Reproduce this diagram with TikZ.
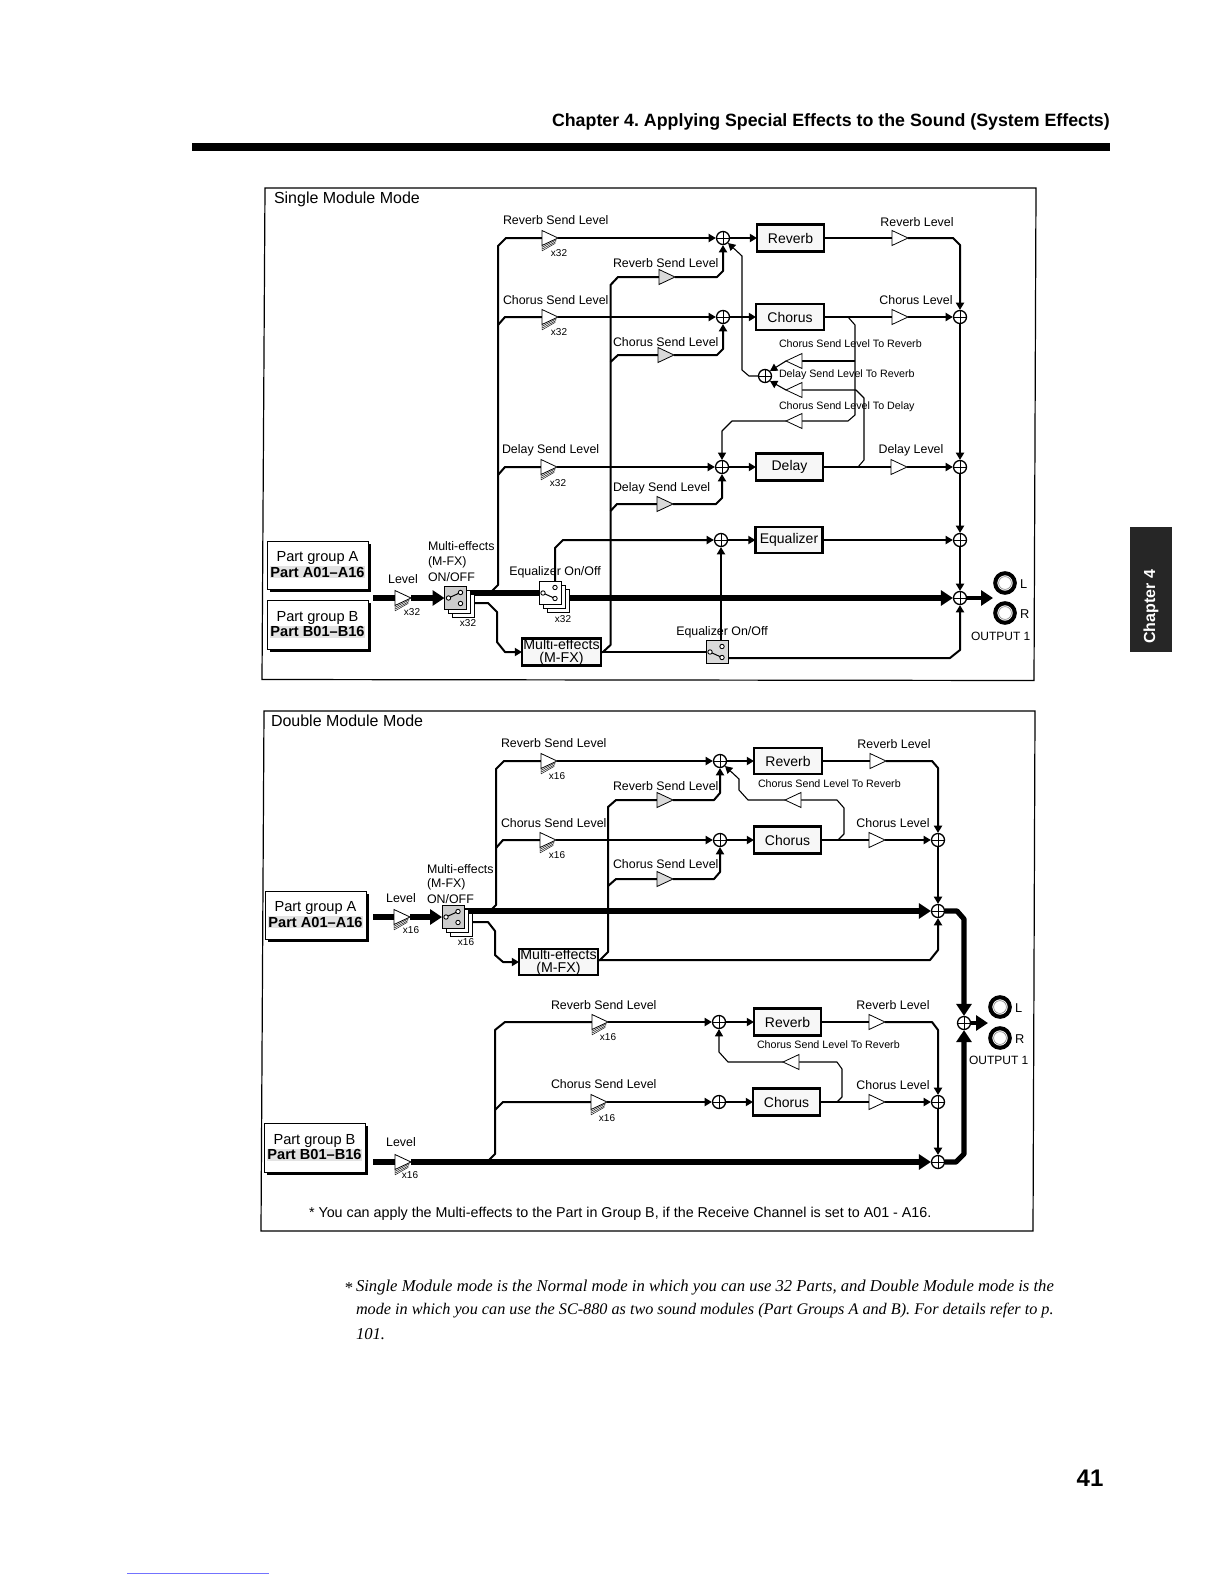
\documentclass[tikz,border=0pt]{standalone}
\usepackage{fontspec}
\setmainfont{Liberation Sans}
\newfontfamily\capfont{Liberation Serif}
\usetikzlibrary{arrows.meta,backgrounds,shadows}
\newcounter{tn}
\setlength{\fboxsep}{0.4pt}
\newcommand{\shd}[1]{\colorbox{gray!22}{\textbf{#1}}}
\newcommand{\fs}[1]{\fontsize{#1pt}{#1pt}\selectfont}
\frenchspacing
\tikzset{
  x=0.5pt,y=-0.5pt,
  txt/.style={inner sep=0,outer sep=0,font=\fs{6.2},yshift=-.4pt},
  small/.style={txt,font=\fs{5.35}},
  mult/.style={txt,font=\fs{5}},
  sumnode/.style={circle,draw,fill=white,line width=.65pt,minimum size=6.5pt,inner sep=0,outer sep=.3pt,
    path picture={\draw[line width=.45pt] (path picture bounding box.north)--(path picture bounding box.south)
      (path picture bounding box.west)--(path picture bounding box.east);}},
  ampbox/.style={rectangle,minimum width=8pt,minimum height=7.5pt,inner sep=0,outer sep=0},
  ampline/.style={line width=.4pt,line join=miter},
  fxbox/.style={rectangle,draw,fill=gray!6,line width=1.25pt,inner sep=0,outer sep=0,align=center,font=\fs{7}},
  partbox/.style={rectangle,draw,fill=white,line width=.4pt,inner sep=0,outer sep=0,align=center,font=\fs{7.3},
    minimum width=50.5pt,drop shadow={shadow xshift=1.3pt,shadow yshift=-1.3pt,fill=black,opacity=1}},
  swbox/.style={rectangle,draw,line width=.45pt,inner sep=0,outer sep=0},
  jack/.style={circle,draw,line width=2pt,fill=white,minimum size=9.8pt,inner sep=0,outer sep=0,
    path picture={\draw[line width=.3pt,gray] (path picture bounding box.center) circle (3.2pt);}},
  wire/.style={line width=1pt,line join=round},
  thinw/.style={line width=.55pt,line join=round},
  fat/.style={line width=2.6pt,line join=round},
  ar/.style={-{Triangle[length=3.6pt,width=4pt]}},
  bigar/.style={-{Triangle[length=6pt,width=7.5pt]}},
  frame/.style={line width=.6pt},
}
% text nodes: left anchored and centred
\newcommand{\tL}[4][txt]{\stepcounter{tn}\node[#1,anchor=west] (t\thetn) at (#2,#3) {#4};}
\newcommand{\tC}[4][txt]{\stepcounter{tn}\node[#1] (t\thetn) at (#2,#3) {#4};}
% amplifiers
\newcommand{\ampR}[4][white]{\node[ampbox] (#2) at ({#3+8},#4) {};
  \draw[ampline,fill=#1] (#2.south west)--(#2.north west)--(#2.east)--cycle;}
\newcommand{\ampL}[4][white]{\node[ampbox] (#2) at ({#3+8},#4) {};
  \draw[ampline,fill=#1] (#2.south east)--(#2.north east)--(#2.west)--cycle;}
\newcommand{\ampS}[3]{\ampR{#1}{#2}{#3}
  \draw[line width=.22pt] (#1.south west)--([yshift=-2.7pt]#1.south west)
    ([yshift=-.9pt]#1.south west)--([xshift=-.8pt,yshift=-.9pt]#1.east)
    ([yshift=-1.8pt]#1.south west)--([xshift=-1pt,yshift=-1.8pt]#1.east)
    ([yshift=-2.7pt]#1.south west)--([xshift=-1.4pt,yshift=-2.7pt]#1.east);}
% switches: name, cx, cy, fill, which right contact the lever meets (-1 top, 1 bottom)
\newcommand{\swfront}[5]{\node[swbox,fill=#4,minimum width=11pt,minimum height=11.5pt] (#1) at (#2,#3) {};
  \draw[line width=.5pt] ({#2-7},#3) -- ({#2+5},{#3+#5*5.5});
  \draw[line width=.45pt,fill=white] ({#2-7},#3) circle (1.1pt) ({#2+5},{#3-5.5}) circle (1.1pt) ({#2+5},{#3+5.5}) circle (1.1pt);}
\newcommand{\swstack}[5]{%
  \draw[swbox,fill=white] ({#2-11+8},{#3-11.5+8}) rectangle ++(22,23);
  \draw[swbox,fill=white] ({#2-11+4},{#3-11.5+4}) rectangle ++(22,23);
  \swfront{#1}{#2}{#3}{#4}{#5}}
\newcommand{\fx}[6]{\node[fxbox,minimum width={#4*0.5pt},minimum height={#5*0.5pt}] (#1) at (#2,#3) {#6};}
\newcommand{\sm}[3]{\node[sumnode] (#1) at (#2,#3) {};}

\begin{document}
\begin{tikzpicture}
\useasboundingbox (0,0) rectangle (1224,1584);

% page furniture
\tL[txt,font=\bfseries\fs{8.9}]{552}{121}{Chapter 4. Applying Special Effects to the Sound (System Effects)}
\fill[black] (192,143) rectangle (1110,150.5);
\fill[black!85] (1130,527) rectangle (1172,652);
\node[txt,white,font=\bfseries\fs{8},rotate=90] (tabtext) at (1151,606) {Chapter 4};
\draw[frame] (265,188)--(1036,188)--(1034,680.5)--(262,679.5)--cycle;
\draw[frame] (264,711)--(1035,711)--(1033,1231)--(261,1231)--cycle;
\tL[txt,font=\fs{8}]{274}{199}{Single Module Mode}
\tL[txt,font=\fs{8}]{271}{720}{Double Module Mode}
\tL[txt,font=\fs{7.15}]{309}{1213}{* You can apply the Multi-effects to the Part in Group B, if the Receive Channel is set to A01 - A16.}
\tL[txt,font=\capfont\itshape\fs{8.32}]{344}{1287}{*}
\tL[txt,font=\capfont\itshape\fs{8.32}]{356}{1287}{Single Module mode is the Normal mode in which you can use 32 Parts, and Double Module mode is the}
\tL[txt,font=\capfont\itshape\fs{8.1}]{356}{1310}{mode in which you can use the SC-880 as two sound modules (Part Groups A and B). For details refer to p.}
\tL[txt,font=\capfont\itshape\fs{8.32}]{356}{1333}{101.}
\tC[txt,font=\bfseries\fs{12}]{1090}{1477}{41}
\draw[line width=.4pt,blue!55!white] (127,1573)--(269,1573);

%%%%%%%%%%%%%%%%%%%% SINGLE MODULE MODE %%%%%%%%%%%%%%%%%%%%
\sm{sR}{723}{238}\sm{sC}{723}{317}\sm{sD}{722}{467}\sm{sE}{721}{540}\sm{sMix}{765}{376}
\sm{oC}{960}{317}\sm{oD}{960}{467}\sm{oE}{960}{540}\sm{oM}{960}{598}
\fx{rev}{790.5}{238}{67}{27}{Reverb}
\fx{cho}{790}{317}{68}{26}{Chorus}
\fx{del}{789.5}{467}{67}{27}{Delay}
\fx{eq}{789}{540}{67}{26}{Equalizer}
\fx{mfx}{561.5}{652}{79}{27}{\fs{7.1}Multi-effects\\[-.6pt]\fs{7.1}(M-FX)}
\ampS{aR1}{542}{238}\ampS{aC1}{542}{317}\ampS{aD1}{541}{467}
\ampR[gray!30]{aR2}{659}{277}\ampR[gray!30]{aC2}{658}{355}\ampR[gray!30]{aD2}{657}{504}
\ampR{aRo}{892}{238}\ampR{aCo}{892}{317}\ampR{aDo}{891}{467}
\ampL{aCR}{786}{361}\ampL{aDR}{786}{390}\ampL{aCD}{786}{421}
\ampS{aIn}{395}{598}
\swstack{sw1}{455.5}{598}{gray!40}{-1}
\swstack{sw2}{550}{593}{white}{1}
\swfront{sw3}{717}{652}{gray!30}{1}
\node[partbox,minimum height=24pt] (pa) at (317.5,565) {Part group A\\[.6pt]\shd{Part A01--A16}};
\node[partbox,minimum height=24.5pt] (pb) at (317.5,624.5) {Part group B\\[.6pt]\shd{Part B01--B16}};
\node[jack] (jL1) at (1005,583) {};
\node[jack] (jR1) at (1005,613) {};
% labels
\tL{503}{219}{Reverb Send Level}
\tL{613}{262}{Reverb Send Level}
\tL{503}{299}{Chorus Send Level}
\tL{613}{341}{Chorus Send Level}
\tL{502}{449}{Delay Send Level}
\tL{613}{487}{Delay Send Level}
\tC[mult]{559}{252}{x32}\tC[mult]{559}{331}{x32}\tC[mult]{558}{482}{x32}
\tC{917}{221}{Reverb Level}\tC{916}{299}{Chorus Level}\tC{911}{449}{Delay Level}
\tL[small]{779}{343}{Chorus Send Level To Reverb}
\tL[small]{779}{374}{Delay Send Level To Reverb}
\tL[small]{779}{406}{Chorus Send Level To Delay}
\tC{403}{578}{Level}\tC[mult]{412}{611}{x32}
\tL{428}{545}{Multi-effects}\tL{428}{561}{(M-FX)}\tL{428}{576}{ON/OFF}
\tC[mult]{468}{622}{x32}\tC[mult]{563}{618}{x32}
\tC{555}{571}{Equalizer On/Off}\tC{722}{631}{Equalizer On/Off}
\tL[txt,font=\fs{6.4}]{1020}{583}{L}\tL[txt,font=\fs{6.4}]{1020}{613}{R}
\tL[txt,font=\fs{6}]{971}{636}{OUTPUT 1}
% junctions and free ends
\coordinate (inAB) at (373,598);
\coordinate (jBus) at (490,593);
\coordinate (jC1) at (498,325);
\coordinate (jD1) at (498,475);
\coordinate (jC2) at (610.5,362);
\coordinate (jD2) at (610.5,511);
\coordinate (jCh) at (848,317);
\coordinate (jCR) at (855,361);
\coordinate (jDl) at (858,467);
\coordinate (outTip1) at (993,598);
\begin{scope}[on background layer]
\draw[fat] (inAB)--(aIn.west);
\draw[fat,bigar] (aIn.east)--(sw1.west);
\draw[fat] ([yshift=2.5pt]sw1.east)--(sw2.west);
\draw[fat,bigar] ([yshift=-2.5pt]sw2.east)--(oM.west);
\draw[fat,bigar,line width=2pt] (oM.east)--(outTip1);
\draw[wire] (jBus)--(498,585)--(498,246)--(506,238)--(aR1.west);
\draw[wire,ar] (aR1.east)--(sR.west);
\draw[wire] (jC1)--(505,317)--(aC1.west);
\draw[wire,ar] (aC1.east)--(sC.west);
\draw[wire] (jD1)--(505,467)--(aD1.west);
\draw[wire,ar] (aD1.east)--(sD.west);
\draw[wire] (mfx.east)--(603,652)--(610.5,645)--(610.5,285)--(618,277)--(aR2.west);
\draw[wire,ar] (aR2.east)--(717,277)--(723,271)--(sR.south);
\draw[wire] (jC2)--(618,355)--(aC2.west);
\draw[wire,ar] (aC2.east)--(717,355)--(723,349)--(sC.south);
\draw[wire] (jD2)--(617,504)--(aD2.west);
\draw[wire,ar] (aD2.east)--(716,504)--(722,498)--(sD.south);
\draw[wire,ar] (sR.east)--(rev.west);
\draw[wire,ar] (sC.east)--(cho.west);
\draw[wire,ar] (sD.east)--(del.west);
\draw[wire,ar] (sE.east)--(eq.west);
\draw[wire,line width=1.3pt] (rev.east)--(aRo.west);
\draw[wire,ar] (aRo.east)--(953,238)--(960,245)--(oC.north);
\draw[wire,line width=1.3pt] (cho.east)--(aCo.west);
\draw[wire,ar] (aCo.east)--(oC.west);
\draw[wire,line width=1.3pt] (del.east)--(aDo.west);
\draw[wire,ar] (aDo.east)--(oD.west);
\draw[wire,ar] (oC.south)--(oD.north);
\draw[wire,ar] (oD.south)--(oE.north);
\draw[wire,ar] (oE.south)--(oM.north);
\draw[wire,ar] (eq.east)--(oE.west);
\draw[thinw] (jCh)--(855,325)--(855,415)--(848,421)--(aCD.east);
\draw[thinw,ar] (aCD.west)--(732,421)--(722,431)--(sD.north);
\draw[thinw] (jCR)--(aCR.east);
\draw[thinw,ar] (aCR.west)--(sMix.north east);
\draw[thinw] (jDl)--(864,460)--(864,398)--(856,390)--(aDR.east);
\draw[thinw,ar] (aDR.west)--(sMix.south east);
\draw[thinw,ar] (sMix.west)--(749,376)--(742,370)--(742,256)--(sR.south east);
\draw[wire,ar] ([xshift=2.5pt]sw2.north)--(555,548)--(563,540)--(sE.west);
\draw[wire,ar] ([yshift=-2.5pt]sw1.east)--(488,603)--(497,612)--(497,642)--(505,652)--(mfx.west);
\draw[wire] (mfx.east)--(sw3.west);
\draw[wire,ar] ([xshift=2pt]sw3.north)--(sE.south);
\draw[wire,ar] ([yshift=-3pt]sw3.east)--(950,658)--(960,650)--(oM.south);
\end{scope}

%%%%%%%%%%%%%%%%%%%% DOUBLE MODULE MODE, GROUP A %%%%%%%%%%%%%%%%%%%%
\sm{dR}{720}{761}\sm{dC}{720}{840}\sm{doC}{938}{840}\sm{doA}{938}{911}
\fx{drev}{788}{761}{68}{26}{Reverb}
\fx{dcho}{787.5}{840}{67}{27}{Chorus}
\fx{dmfx}{558.5}{962}{79}{26}{\fs{7.1}Multi-effects\\[-.6pt]\fs{7.1}(M-FX)}
\ampS{daR1}{541}{761}\ampS{daC1}{540}{840}
\ampR[gray!30]{daR2}{657}{800}\ampR[gray!30]{daC2}{657}{879}
\ampR{daRo}{870}{761}\ampR{daCo}{869}{840}
\ampL{daF}{785}{800}
\ampS{daIn}{394}{917}
\swstack{dsw}{453}{917}{gray!40}{-1}
\node[partbox,minimum height=24pt] (dpa) at (315.5,915) {Part group A\\[.6pt]\shd{Part A01--A16}};
\tL{501}{742}{Reverb Send Level}
\tL{613}{785}{Reverb Send Level}
\tL{501}{822}{Chorus Send Level}
\tL{613}{863}{Chorus Send Level}
\tC[mult]{557}{775}{x16}\tC[mult]{557}{854}{x16}
\tC{894}{743}{Reverb Level}\tC{893}{822}{Chorus Level}
\tL[small]{758}{783}{Chorus Send Level To Reverb}
\tC{401}{897}{Level}\tC[mult]{411}{929}{x16}
\tL{427}{868}{Multi-effects}\tL{427}{883}{(M-FX)}\tL{427}{898}{ON/OFF}
\tC[mult]{466}{941}{x16}
\coordinate (dinA) at (373,917);
\coordinate (djBus) at (490,911);
\coordinate (djC1) at (496,848);
\coordinate (djC2) at (608,886);
\coordinate (djF) at (838,840);
\begin{scope}[on background layer]
\draw[fat] (dinA)--(daIn.west);
\draw[fat,bigar] (daIn.east)--(dsw.west);
\draw[fat,bigar] ([yshift=3pt]dsw.east)--(doA.west);
\draw[wire] (djBus)--(496,905)--(496,769)--(504,761)--(daR1.west);
\draw[wire,ar] (daR1.east)--(dR.west);
\draw[wire] (djC1)--(503,840)--(daC1.west);
\draw[wire,ar] (daC1.east)--(dC.west);
\draw[wire] ([yshift=1pt]dmfx.east)--(600,960)--(608,952)--(608,807)--(616,800)--(daR2.west);
\draw[wire,ar] (daR2.east)--(714,800)--(720,793)--(dR.south);
\draw[wire] (djC2)--(616,879)--(daC2.west);
\draw[wire,ar] (daC2.east)--(714,879)--(720,872)--(dC.south);
\draw[wire,ar] (dR.east)--(drev.west);
\draw[wire,ar] (dC.east)--(dcho.west);
\draw[wire,line width=1.3pt] (drev.east)--(daRo.west);
\draw[wire,ar] (daRo.east)--(932,761)--(938,768)--(doC.north);
\draw[wire,line width=1.3pt] (dcho.east)--(daCo.west);
\draw[wire,ar] (daCo.east)--(doC.west);
\draw[wire,ar] (doC.south)--(doA.north);
\draw[thinw] (djF)--(844,834)--(844,808)--(837,800)--(daF.east);
\draw[thinw,ar] (daF.west)--(748,800)--(739,790)--(739,779)--(dR.south east);
\draw[wire,ar] ([yshift=-2.5pt]dsw.east)--(488,922)--(495,931)--(495,955)--(503,962)--(dmfx.west);
\draw[wire,ar] ([yshift=1pt]dmfx.east)--(930,960)--(938,950)--(doA.south);
\end{scope}

%%%%%%%%%%%%%%%%%%%% DOUBLE MODULE MODE, GROUP B %%%%%%%%%%%%%%%%%%%%
\sm{bR}{719}{1022}\sm{bC}{719}{1102}\sm{boC}{938}{1102}\sm{boB}{938}{1162}\sm{oOut}{964}{1023}
\fx{brev}{787.5}{1022}{67}{27}{Reverb}
\fx{bcho}{786.5}{1102}{67}{27}{Chorus}
\ampS{baR1}{592}{1022}\ampS{baC1}{591}{1102}
\ampR{baRo}{869}{1022}\ampR{baCo}{869}{1102}
\ampL{baF}{783}{1062}
\ampS{baIn}{395}{1162}
\node[partbox,minimum height=24.5pt] (dpb) at (314.5,1147.5) {Part group B\\[.6pt]\shd{Part B01--B16}};
\node[jack] (jL2) at (1000,1007) {};
\node[jack] (jR2) at (1000,1038) {};
\tL{551}{1004}{Reverb Send Level}
\tL{551}{1083}{Chorus Send Level}
\tC[mult]{608}{1036}{x16}\tC[mult]{607}{1117}{x16}
\tC{893}{1004}{Reverb Level}\tC{893}{1084}{Chorus Level}
\tL[small]{757}{1044}{Chorus Send Level To Reverb}
\tC{401}{1141}{Level}\tC[mult]{410}{1174}{x16}
\tL[txt,font=\fs{6.4}]{1015}{1007}{L}\tL[txt,font=\fs{6.4}]{1015}{1038}{R}
\tL[txt,font=\fs{6}]{969}{1060}{OUTPUT 1}
\coordinate (binB) at (373,1162);
\coordinate (bjBus) at (487,1162);
\coordinate (bjC1) at (495,1110);
\coordinate (bjF) at (837,1102);
\coordinate (outTip2) at (988,1023);
\begin{scope}[on background layer]
\draw[fat] (binB)--(baIn.west);
\draw[fat,bigar] (baIn.east)--(boB.west);
\draw[wire] (bjBus)--(495,1154)--(495,1030)--(505,1022)--(baR1.west);
\draw[wire,ar] (baR1.east)--(bR.west);
\draw[wire] (bjC1)--(503,1102)--(baC1.west);
\draw[wire,ar] (baC1.east)--(bC.west);
\draw[wire,ar] (bR.east)--(brev.west);
\draw[wire,ar] (bC.east)--(bcho.west);
\draw[wire,line width=1.3pt] (brev.east)--(baRo.west);
\draw[wire,ar] (baRo.east)--(932,1022)--(938,1030)--(boC.north);
\draw[wire,line width=1.3pt] (bcho.east)--(baCo.west);
\draw[wire,ar] (baCo.east)--(boC.west);
\draw[wire,ar] (boC.south)--(boB.north);
\draw[thinw] (bjF)--(842,1097)--(842,1069)--(837,1062)--(baF.east);
\draw[thinw,ar] (baF.west)--(728,1062)--(719,1052)--(bR.south);
\draw[fat,bigar] (doA.east)--(957,911)--(964,919)--(oOut.north);
\draw[fat,bigar] (boB.east)--(956,1162)--(964,1154)--(oOut.south);
\draw[fat,bigar,line width=2pt] (oOut.east)--(outTip2);
\end{scope}
\end{tikzpicture}
\end{document}
